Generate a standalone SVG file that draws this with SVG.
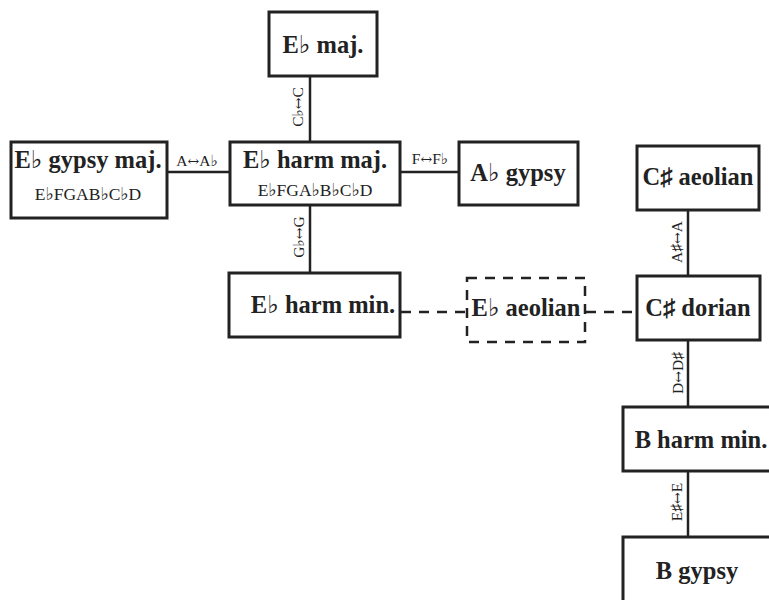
<svg xmlns="http://www.w3.org/2000/svg" width="769" height="600" viewBox="0 0 769 600">
<style>
.box{fill:#fff;stroke:#222;stroke-width:3}
.dbox{fill:#fff;stroke:#222;stroke-width:2.5;stroke-dasharray:10 8}
.t{font-family:"Liberation Serif","DejaVu Serif",serif;font-weight:bold;font-size:24.5px;fill:#222;text-anchor:middle}
.s{font-family:"Liberation Serif","DejaVu Serif",serif;font-size:17.5px;fill:#222;text-anchor:middle}
.e{font-family:"Liberation Serif","DejaVu Serif",serif;font-size:15.5px;fill:#222;text-anchor:middle}
.a{font-family:"DejaVu Serif",serif;font-size:14px}
.c{stroke:#222;stroke-width:2.5;fill:none}
.d{stroke:#222;stroke-width:2.5;fill:none;stroke-dasharray:10 8}
</style>
<rect width="769" height="600" fill="#fff"/>
<g id="connectors">
<line class="c" x1="310" y1="76" x2="310" y2="142"/>
<line class="c" x1="167" y1="172" x2="230" y2="172"/>
<line class="c" x1="400" y1="172" x2="459" y2="172"/>
<line class="c" x1="310" y1="205" x2="310" y2="273"/>
<line class="d" x1="401" y1="312" x2="467" y2="312"/>
<line class="d" x1="586" y1="312" x2="637" y2="312"/>
<line class="c" x1="688" y1="210" x2="688" y2="276"/>
<line class="c" x1="688" y1="340" x2="688" y2="407"/>
<line class="c" x1="688" y1="471" x2="688" y2="537"/>
<text class="e" transform="translate(303,107) rotate(-90)">C♭<tspan class="a">↔</tspan>C</text>
<text class="e" x="197" y="166">A<tspan class="a">↔</tspan>A♭</text>
<text class="e" x="430" y="164">F<tspan class="a">↔</tspan>F♭</text>
<text class="e" transform="translate(304,237) rotate(-90)">G♭<tspan class="a">↔</tspan>G</text>
<text class="e" transform="translate(682,242) rotate(-90)">A♯<tspan class="a">↔</tspan>A</text>
<text class="e" transform="translate(683,373) rotate(-90)">D<tspan class="a">↔</tspan>D♯</text>
<text class="e" transform="translate(682,502) rotate(-90)">E♯<tspan class="a">↔</tspan>E</text>
</g>
<g id="eb-maj"><rect class="box" x="269" y="12" width="108" height="64"/><text class="t" x="323" y="53">E♭ maj.</text></g>
<g id="eb-gypsy-maj"><rect class="box" x="11" y="142" width="156" height="76"/><text class="t" x="88" y="168">E♭ gypsy maj.</text><text class="s" x="88" y="200">E♭FGAB♭C♭D</text></g>
<g id="eb-harm-maj"><rect class="box" x="230" y="142" width="170" height="63"/><text class="t" x="315" y="168">E♭ harm maj.</text><text class="s" x="315" y="196">E♭FGA♭B♭C♭D</text></g>
<g id="ab-gypsy"><rect class="box" x="459" y="142" width="119" height="63"/><text class="t" x="518" y="181">A♭ gypsy</text></g>
<g id="eb-harm-min"><rect class="box" x="229" y="273" width="171" height="64"/><text class="t" x="323" y="313">E♭ harm min.</text></g>
<g id="eb-aeolian"><rect class="dbox" x="467" y="278" width="118" height="64"/><text class="t" x="526" y="316">E♭ aeolian</text></g>
<g id="cs-aeolian"><rect class="box" x="637" y="146" width="122" height="64"/><text class="t" x="698" y="185">C♯ aeolian</text></g>
<g id="cs-dorian"><rect class="box" x="637" y="276" width="123" height="64"/><text class="t" x="698" y="316">C♯ dorian</text></g>
<g id="b-harm-min"><rect class="box" x="623" y="407" width="160" height="64"/><text class="t" x="701" y="448">B harm min.</text></g>
<g id="b-gypsy"><rect class="box" x="623" y="537" width="160" height="80"/><text class="t" x="697" y="579">B gypsy</text></g>
</svg>
